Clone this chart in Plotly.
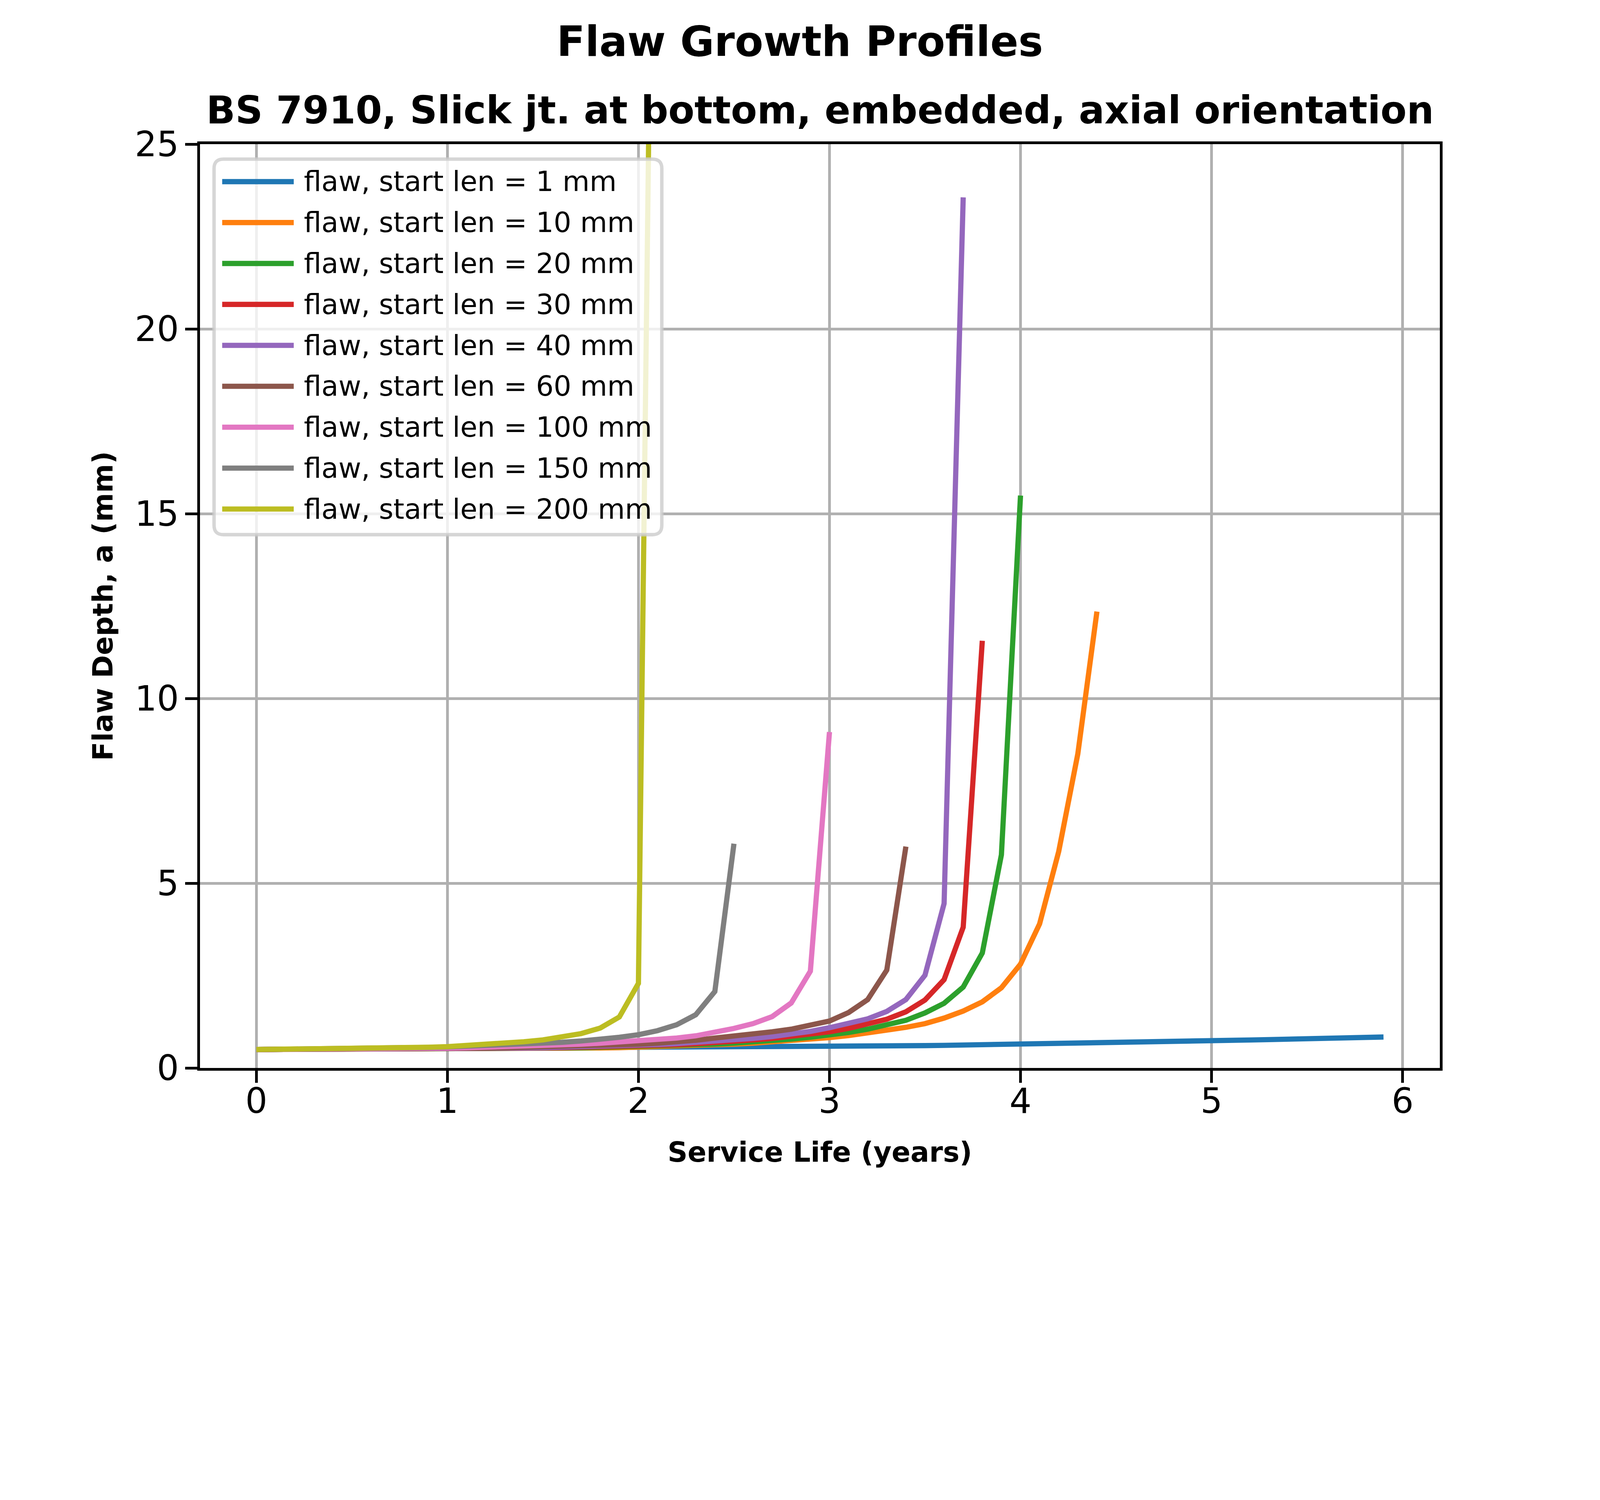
import plotly.graph_objects as go


# Service life grid (years), 0.1 yr steps
years = [round(0.1 * i, 1) for i in range(60)]

# Flaw depth a (mm) per start length
len_1mm = [0.500, 0.502, 0.504, 0.506, 0.508, 0.510, 0.512, 0.514, 0.516, 0.518,
           0.520, 0.522, 0.524, 0.526, 0.528, 0.530, 0.532, 0.534, 0.536, 0.538,
           0.540, 0.543, 0.546, 0.549, 0.552, 0.555, 0.559, 0.563, 0.567, 0.571,
           0.575, 0.581, 0.587, 0.593, 0.599, 0.605, 0.612, 0.619, 0.626, 0.633,
           0.640, 0.649, 0.658, 0.667, 0.676, 0.685, 0.695, 0.705, 0.715, 0.725,
           0.735, 0.746, 0.757, 0.768, 0.779, 0.790, 0.802, 0.814, 0.826, 0.838]
len_10mm = [0.500, 0.5005, 0.501, 0.502, 0.502, 0.503, 0.504, 0.505, 0.506, 0.507,
            0.509, 0.511, 0.513, 0.516, 0.520, 0.524, 0.529, 0.535, 0.542, 0.550,
            0.560, 0.570, 0.585, 0.600, 0.620, 0.645, 0.670, 0.700, 0.735, 0.775,
            0.820, 0.875, 0.940, 1.010, 1.100, 1.200, 1.350, 1.540, 1.790, 2.170,
            2.810, 3.900, 5.860, 8.500, 12.35]
len_20mm = [0.500, 0.5005, 0.501, 0.502, 0.503, 0.504, 0.505, 0.506, 0.508, 0.510,
            0.512, 0.515, 0.519, 0.523, 0.528, 0.534, 0.540, 0.547, 0.556, 0.566,
            0.577, 0.590, 0.605, 0.625, 0.645, 0.670, 0.700, 0.740, 0.780, 0.830,
            0.890, 0.960, 1.050, 1.160, 1.290, 1.490, 1.750, 2.190, 3.110, 5.770,
            15.49]
len_30mm = [0.500, 0.5005, 0.501, 0.502, 0.503, 0.504, 0.505, 0.507, 0.509, 0.511,
            0.514, 0.518, 0.522, 0.527, 0.533, 0.540, 0.548, 0.557, 0.568, 0.580,
            0.595, 0.610, 0.630, 0.655, 0.680, 0.720, 0.760, 0.800, 0.850, 0.910,
            0.980, 1.070, 1.180, 1.320, 1.520, 1.840, 2.390, 3.810, 11.56]
len_40mm = [0.500, 0.5005, 0.501, 0.502, 0.503, 0.504, 0.506, 0.508, 0.511, 0.514,
            0.518, 0.522, 0.527, 0.533, 0.540, 0.548, 0.558, 0.569, 0.582, 0.597,
            0.615, 0.635, 0.660, 0.690, 0.720, 0.760, 0.800, 0.850, 0.910, 0.990,
            1.090, 1.200, 1.330, 1.530, 1.850, 2.510, 4.450, 23.56]
len_60mm = [0.500, 0.501, 0.501, 0.502, 0.503, 0.503, 0.505, 0.508, 0.512, 0.517,
            0.523, 0.530, 0.538, 0.547, 0.556, 0.565, 0.577, 0.590, 0.607, 0.625,
            0.645, 0.670, 0.700, 0.750, 0.810, 0.860, 0.920, 0.980, 1.050, 1.150,
            1.270, 1.500, 1.850, 2.650, 5.990]
len_100mm = [0.500, 0.501, 0.502, 0.504, 0.506, 0.509, 0.513, 0.518, 0.524, 0.530,
             0.538, 0.547, 0.558, 0.570, 0.585, 0.600, 0.620, 0.645, 0.670, 0.700,
             0.730, 0.770, 0.810, 0.870, 0.960, 1.070, 1.200, 1.390, 1.760, 2.620,
             9.090]
len_150mm = [0.500, 0.503, 0.507, 0.511, 0.516, 0.522, 0.529, 0.537, 0.546, 0.557,
             0.570, 0.585, 0.600, 0.620, 0.640, 0.665, 0.695, 0.730, 0.770, 0.830,
             0.900, 1.010, 1.170, 1.440, 2.070, 6.070]
len_200mm = [0.500, 0.503, 0.507, 0.511, 0.516, 0.522, 0.529, 0.537, 0.547, 0.561,
             0.578, 0.605, 0.635, 0.670, 0.710, 0.760, 0.830, 0.930, 1.080, 1.380,
             2.290, 45.0]

start_lengths = [1, 10, 20, 30, 40, 60, 100, 150, 200]
series = [len_1mm, len_10mm, len_20mm, len_30mm, len_40mm,
          len_60mm, len_100mm, len_150mm, len_200mm]
colors = ['#1f77b4', '#ff7f0e', '#2ca02c', '#d62728', '#9467bd',
          '#8c564b', '#e377c2', '#7f7f7f', '#bcbd22']

FONT = 'DejaVu Sans'

# The page is shown at 1.25 device px per css px, so lay out in
# reference pixels (5120x3840) and scale by S to css pixels.
S = 0.8
LW = 16.7 * S

fig = go.Figure()
for n, vals, col in zip(start_lengths, series, colors):
    fig.add_trace(go.Scatter(
        x=years[:len(vals)], y=vals, mode='lines',
        line=dict(color=col, width=LW),
        name='flaw, start len = %d mm' % n,
        showlegend=False))

# Plot area in reference pixels (matplotlib default subplot params)
W, H = 5120, 3840
L, R, T, B = 640, 4608, 461, 3418
pw, ph = R - L, B - T


def px(x):
    return (x - L) / pw


def py(y):
    return (B - y) / ph


# Hand drawn legend box (matplotlib style)
x0, x1, y0, y1 = px(685), px(2118), py(1711), py(509)
rx, ry = 30 / pw, 30 / ph
path = ('M %f,%f L %f,%f Q %f,%f %f,%f L %f,%f Q %f,%f %f,%f '
        'L %f,%f Q %f,%f %f,%f L %f,%f Q %f,%f %f,%f Z') % (
    x0 + rx, y1, x1 - rx, y1, x1, y1, x1, y1 - ry,
    x1, y0 + ry, x1, y0, x1 - rx, y0,
    x0 + rx, y0, x0, y0, x0, y0 + ry,
    x0, y1 - ry, x0, y1, x0 + rx, y1)
fig.add_shape(type='path', path=path, xref='paper', yref='paper',
              fillcolor='rgba(255,255,255,0.8)',
              line=dict(color='rgba(204,204,204,0.8)', width=11 * S), layer='above')

for i, (n, col) in enumerate(zip(start_lengths, colors)):
    yy = py(581 + 131.0 * i)
    fig.add_shape(type='line', xref='paper', yref='paper',
                  x0=px(711), x1=px(940), y0=yy, y1=yy,
                  line=dict(color=col, width=LW), layer='above')
    fig.add_annotation(x=px(970), y=yy, xref='paper', yref='paper',
                       text='flaw, start len = %d mm' % n, showarrow=False,
                       xanchor='left', yanchor='middle',
                       font=dict(family=FONT, size=89 * S, color='black'))

# Titles
fig.add_annotation(x=px(W / 2), y=py(132), xref='paper', yref='paper',
                   text='<b>Flaw Growth Profiles</b>', showarrow=False,
                   xanchor='center', yanchor='middle',
                   font=dict(family=FONT, size=133 * S, color='black'))
fig.add_annotation(x=0.5, y=py(352), xref='paper', yref='paper',
                   text='<b>BS 7910, Slick jt. at bottom, embedded, axial orientation</b>',
                   showarrow=False, xanchor='center', yanchor='middle',
                   font=dict(family=FONT, size=122 * S, color='black'))

# Axis titles
fig.add_annotation(x=0.5, y=py(3688), xref='paper', yref='paper',
                   text='<b>Service Life (years)</b>', showarrow=False,
                   xanchor='center', yanchor='middle',
                   font=dict(family=FONT, size=89 * S, color='black'))
fig.add_annotation(x=px(329), y=0.5, xref='paper', yref='paper',
                   text='<b>Flaw Depth, a (mm)</b>', showarrow=False,
                   textangle=-90, xanchor='center', yanchor='middle',
                   font=dict(family=FONT, size=89 * S, color='black'))

axis_style = dict(
    showline=True, linecolor='black', linewidth=9 * S, mirror=True,
    ticks='outside', ticklen=39 * S, tickwidth=9 * S, tickcolor='black',
    showgrid=True, gridcolor='#b0b0b0', gridwidth=9 * S, zeroline=False,
    tickfont=dict(family=FONT, size=111 * S, color='black'),
)

fig.update_layout(
    width=W * S, height=H * S, autosize=False,
    margin=dict(l=L * S, r=(W - R) * S, t=T * S, b=(H - B) * S, pad=0),
    plot_bgcolor='white', paper_bgcolor='white',
    showlegend=False,
    xaxis=dict(range=[-0.295, 6.195], tickvals=[0, 1, 2, 3, 4, 5, 6],
               ticklabelstandoff=-30, **axis_style),
    yaxis=dict(range=[0, 25], tickvals=[0, 5, 10, 15, 20, 25],
               ticklabelstandoff=-2, **axis_style),
)

fig.write_html("out.html", config={'displayModeBar': False},
               post_script="document.body.style.margin='0';")
